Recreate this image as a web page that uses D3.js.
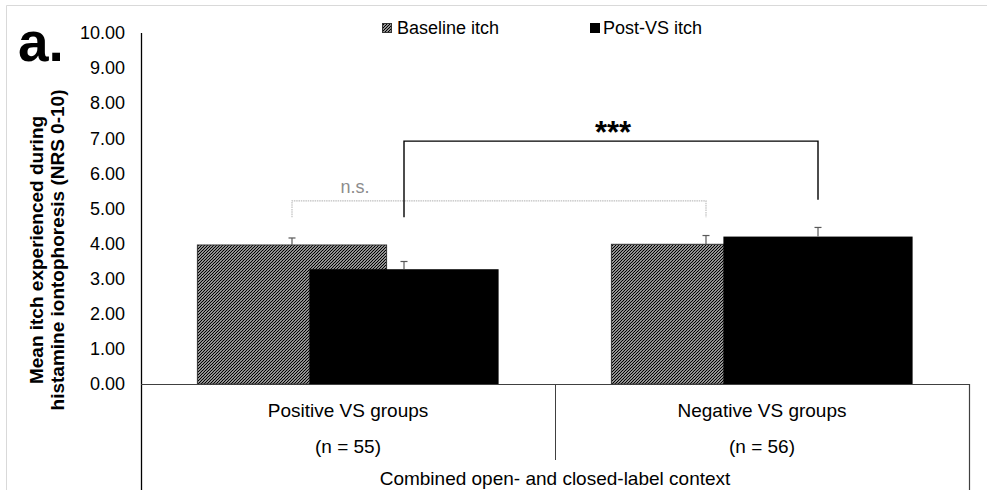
<!DOCTYPE html>
<html>
<head>
<meta charset="utf-8">
<script src="https://cdn.jsdelivr.net/npm/d3@7"></script>
<style>
  body { margin: 0; background: #fff; }
  text { font-family: "Liberation Sans", Arial, sans-serif; }
</style>
</head>
<body>
<svg width="987" height="490"></svg>
<script>
// data
var groups = ["Positive VS groups", "Negative VS groups"];
var groupN = ["(n = 55)", "(n = 56)"];
var series = ["Baseline itch", "Post-VS itch"];
var baseline = [3.96, 3.98];
var postVS = [3.27, 4.20];
var baselineErr = [0.20, 0.25];
var postErr = [0.22, 0.26];
var yTicks = [0, 1, 2, 3, 4, 5, 6, 7, 8, 9, 10];

var width = 987, height = 490;
var margin = {top: 33, left: 141, right: 18, bottom: 106};

var svg = d3.select("svg");

// hatch for baseline bars
var defs = svg.append("defs");
defs.append("pattern")
    .attr("id", "hatch")
    .attr("patternUnits", "userSpaceOnUse")
    .attr("width", 3)
    .attr("height", 3)
  .append("path")
    .attr("d", "M-1,1 l2,-2 M0,3 l3,-3 M2,4 l2,-2")
    .attr("stroke", "#000")
    .attr("stroke-width", 1.25);

// outer light frame
svg.append("path")
    .attr("d", "M6.5,490 V5.5 H987")
    .attr("fill", "none")
    .attr("stroke", "#d9d9d9");

var x = d3.scaleBand()
    .domain(groups)
    .range([margin.left, width - margin.right])
    .padding(0);

var y = d3.scaleLinear()
    .domain([0, 10])
    .range([height - margin.bottom, margin.top]);

var barW = x.bandwidth() * 0.457;
var x1 = d3.scalePoint()
    .domain(series)
    .range([-barW * 0.296, barW * 0.296]);

// y axis labels
var yAxis = svg.append("g")
    .attr("transform", "translate(" + margin.left + ",0)")
    .call(d3.axisLeft(y).tickValues(yTicks).tickFormat(d3.format(".2f")).tickSize(0).tickPadding(16));
yAxis.select(".domain").remove();
yAxis.selectAll("text")
    .attr("fill", "#000")
    .style("font-size", "18px")
    .style("font-family", "Liberation Sans, Arial, sans-serif");

var rows = groups.map(function(g, i) {
  return [
    {group: g, s: series[0], v: baseline[i], e: baselineErr[i]},
    {group: g, s: series[1], v: postVS[i], e: postErr[i]}
  ];
});
var flat = [].concat.apply([], rows);

// bars, baseline first so post covers it
svg.selectAll(".bar")
    .data(flat)
    .enter()
    .append("rect")
      .attr("x", function(d) { return x(d.group) + x.bandwidth() / 2 + x1(d.s) - barW / 2; })
      .attr("y", function(d) { return y(d.v); })
      .attr("width", barW)
      .attr("height", function(d) { return y(0) - y(d.v); })
      .attr("fill", function(d) { return d.s == series[0] ? "url(#hatch)" : "#000"; })
      .attr("stroke", function(d) { return d.s == series[0] ? "#333" : "none"; })
      .attr("stroke-width", 1);

// error bars (plus only)
function cx(d) { return x(d.group) + x.bandwidth() / 2 + x1(d.s); }
var err = svg.append("g").attr("stroke", "#595959").attr("stroke-width", 1.2);
err.selectAll("line.v")
    .data(flat)
    .enter()
    .append("line")
      .attr("x1", cx).attr("x2", cx)
      .attr("y1", function(d) { return y(d.v); })
      .attr("y2", function(d) { return y(d.v + d.e); });
err.selectAll("line.c")
    .data(flat)
    .enter()
    .append("line")
      .attr("x1", function(d) { return cx(d) - 3.5; })
      .attr("x2", function(d) { return cx(d) + 3.5; })
      .attr("y1", function(d) { return y(d.v + d.e); })
      .attr("y2", function(d) { return y(d.v + d.e); });

// axis lines and category box
var y0 = y(0), xl = margin.left, xr = width - margin.right;
svg.append("line")
    .attr("x1", xl + 0.5).attr("x2", xl + 0.5)
    .attr("y1", margin.top).attr("y2", height)
    .attr("stroke", "#000").attr("stroke-width", 1.3);
svg.append("line")
    .attr("x1", xl).attr("x2", xr)
    .attr("y1", y0 + 0.5).attr("y2", y0 + 0.5)
    .attr("stroke", "#404040").attr("stroke-width", 1.2);
svg.append("line")
    .attr("x1", xr + 0.5).attr("x2", xr + 0.5)
    .attr("y1", y0).attr("y2", height)
    .attr("stroke", "#404040").attr("stroke-width", 1.2);
svg.append("line")
    .attr("x1", x(groups[1]) + 0.5).attr("x2", x(groups[1]) + 0.5)
    .attr("y1", y0).attr("y2", 460)
    .attr("stroke", "#404040").attr("stroke-width", 1);

// category labels
svg.selectAll(".cat")
    .data(groups)
    .enter()
    .append("text")
      .attr("x", function(d) { return x(d) + x.bandwidth() / 2; })
      .attr("y", 417)
      .attr("text-anchor", "middle")
      .style("font-size", "19px")
      .text(function(d) { return d; });
svg.selectAll(".ncat")
    .data(groups)
    .enter()
    .append("text")
      .attr("x", function(d) { return x(d) + x.bandwidth() / 2; })
      .attr("y", 453)
      .attr("text-anchor", "middle")
      .style("font-size", "19px")
      .text(function(d, i) { return groupN[i]; });
svg.append("text")
    .attr("x", (xl + xr) / 2)
    .attr("y", 485)
    .attr("text-anchor", "middle")
    .style("font-size", "19px")
    .text("Combined open- and closed-label context");

// n.s. bracket (baseline vs baseline)
var b1 = cx(flat[0]), b2 = cx(flat[2]);
svg.append("path")
    .attr("d", "M" + b1 + "," + y(4.75) + " V" + y(5.22) + " H" + b2 + " V" + y(4.75))
    .attr("fill", "none")
    .attr("stroke", "#bfbfbf")
    .attr("stroke-width", 1.2)
    .attr("stroke-dasharray", "1.5,0.8");
svg.append("text")
    .attr("x", 355)
    .attr("y", 193)
    .attr("text-anchor", "middle")
    .attr("fill", "#8c8c8c")
    .style("font-size", "18px")
    .text("n.s.");

// *** bracket (post vs post)
var p1 = cx(flat[1]), p2 = cx(flat[3]);
svg.append("path")
    .attr("d", "M" + p1 + "," + y(4.75) + " V" + y(6.92) + " H" + p2 + " V" + y(5.25))
    .attr("fill", "none")
    .attr("stroke", "#000")
    .attr("stroke-width", 1.4);
svg.append("text")
    .attr("x", (p1 + p2) / 2 + 2)
    .attr("y", 143)
    .attr("text-anchor", "middle")
    .style("font-size", "31px")
    .style("font-weight", "bold")
    .text("***");

// legend
var leg = svg.append("g");
leg.append("rect")
    .attr("x", 382.5).attr("y", 23.5).attr("width", 9).attr("height", 9)
    .attr("fill", "url(#hatch)").attr("stroke", "#333");
leg.append("text")
    .attr("x", 397).attr("y", 34)
    .style("font-size", "18px")
    .text(series[0]);
leg.append("rect")
    .attr("x", 590).attr("y", 23).attr("width", 10).attr("height", 10)
    .attr("fill", "#000");
leg.append("text")
    .attr("x", 603).attr("y", 34)
    .style("font-size", "18px")
    .text(series[1]);

// y title
var yt = svg.append("text")
    .attr("transform", "translate(43,250) rotate(-90)")
    .attr("text-anchor", "middle")
    .style("font-size", "19px")
    .style("font-weight", "bold");
yt.append("tspan").attr("x", 0).attr("dy", 0).text("Mean itch experienced during");
yt.append("tspan").attr("x", 0).attr("dy", 21).text("histamine iontophoresis (NRS 0-10)");

// panel letter
svg.append("text")
    .attr("x", 18)
    .attr("y", 61)
    .style("font-size", "55px")
    .style("font-weight", "bold")
    .text("a.");
</script>
</body>
</html>
